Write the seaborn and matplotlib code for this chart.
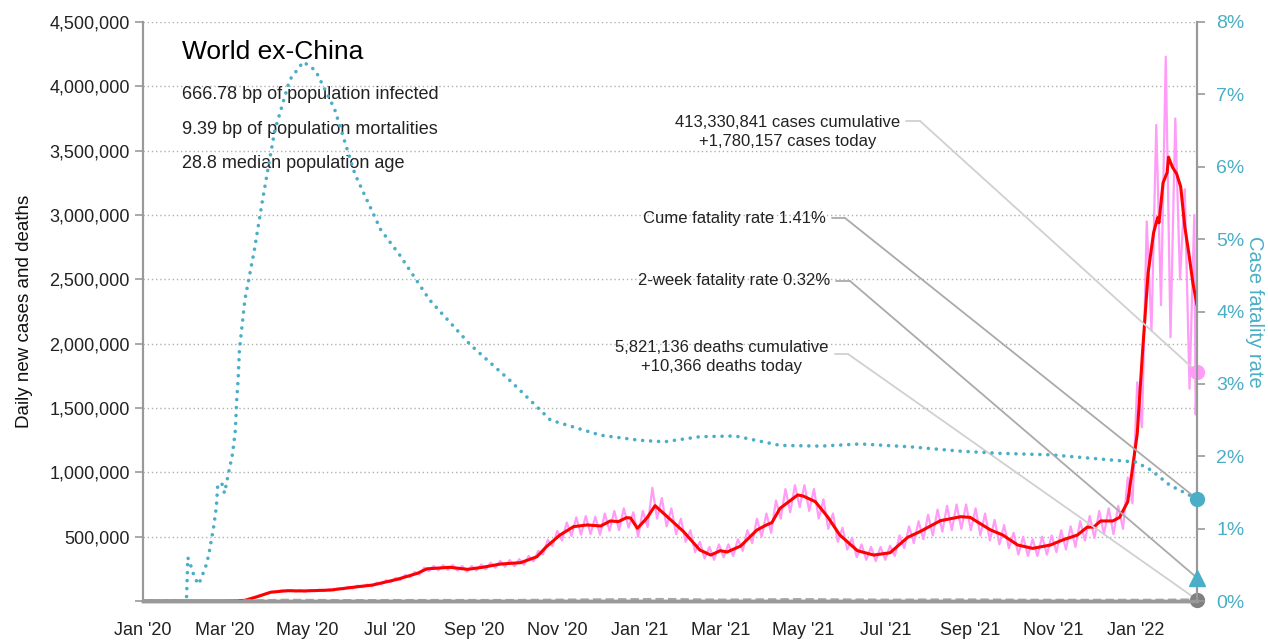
import pandas as pd
import numpy as np
import matplotlib
matplotlib.use('Agg')
import matplotlib.pyplot as plt
import matplotlib.dates as mdates
import matplotlib.ticker as mticker
import seaborn as sns

sns.set_style('white')
plt.rcParams['font.family'] = ['Liberation Sans', 'DejaVu Sans']

# 7-day average of new cases (thousands)
avg_dates = ['2020-01-01', '2020-03-05', '2020-03-16', '2020-03-25', '2020-04-04', '2020-04-16',
             '2020-04-28', '2020-05-18', '2020-06-07', '2020-06-18', '2020-07-06', '2020-07-21',
             '2020-07-28', '2020-08-14', '2020-08-27', '2020-09-07', '2020-09-20', '2020-10-05',
             '2020-10-17', '2020-10-24', '2020-11-03', '2020-11-13', '2020-11-23', '2020-12-03',
             '2020-12-10', '2020-12-16', '2020-12-22', '2020-12-25', '2020-12-30', '2021-01-06',
             '2021-01-12', '2021-01-21', '2021-02-02', '2021-02-14', '2021-02-22', '2021-03-01',
             '2021-03-06', '2021-03-16', '2021-03-28', '2021-04-04', '2021-04-08', '2021-04-14',
             '2021-04-27', '2021-05-01', '2021-05-10', '2021-05-19', '2021-05-28', '2021-06-10',
             '2021-06-22', '2021-07-04', '2021-07-17', '2021-07-26', '2021-08-10', '2021-08-25',
             '2021-09-01', '2021-09-08', '2021-09-16', '2021-09-25', '2021-10-06', '2021-10-17',
             '2021-10-30', '2021-11-08', '2021-11-19', '2021-11-26', '2021-12-01', '2021-12-06',
             '2021-12-15', '2021-12-20', '2021-12-26', '2021-12-29', '2022-01-02', '2022-01-06',
             '2022-01-10', '2022-01-14', '2022-01-17', '2022-01-18', '2022-01-21', '2022-01-24',
             '2022-01-25', '2022-01-28', '2022-01-31', '2022-02-03', '2022-02-06', '2022-02-09',
             '2022-02-12', '2022-02-15']
avg_cases = [0, 0, 5, 33, 68, 80, 78, 85, 111, 124, 168, 215, 250, 262, 246, 262, 287, 298,
             344, 422, 513, 578, 591, 583, 622, 617, 648, 645, 565, 645, 741, 655, 539, 396,
             357, 391, 381, 427, 552, 591, 609, 720, 824, 816, 772, 655, 513, 391, 357, 375,
             495, 539, 624, 655, 650, 604, 552, 513, 435, 409, 435, 474, 513, 573, 575, 622,
             622, 650, 772, 993, 1300, 1950, 2550, 2860, 2980, 2940, 3250, 3330, 3450, 3370,
             3320, 3220, 2910, 2700, 2470, 2300]

# daily new cases (thousands), read every 3.5 days from 2020-03-01
daily_start = '2020-03-01'
daily_cases = [1, 2, 2, 4, 5, 16, 26, 40, 50, 62,
               72, 70, 84, 74, 86, 72, 85, 72, 86, 76,
               88, 78, 92, 82, 100, 90, 110, 98, 120, 106,
               128, 114, 142, 130, 162, 146, 180, 162, 202, 184,
               226, 206, 260, 234, 272, 238, 278, 242, 280, 236,
               272, 228, 272, 236, 284, 246, 298, 258, 312, 266,
               318, 270, 325, 282, 350, 308, 390, 362, 475, 425,
               545, 470, 610, 505, 650, 515, 660, 520, 655, 515,
               680, 545, 700, 550, 720, 570, 690, 500, 700, 575,
               880, 640, 800, 580, 720, 520, 640, 460, 550, 380,
               460, 330, 420, 320, 440, 340, 440, 350, 480, 390,
               550, 450, 640, 500, 680, 530, 780, 640, 870, 690,
               900, 730, 900, 700, 870, 640, 790, 560, 680, 460,
               570, 400, 490, 340, 440, 320, 420, 310, 420, 320,
               430, 350, 510, 410, 580, 450, 620, 480, 670, 510,
               710, 540, 740, 550, 750, 560, 750, 550, 720, 510,
               680, 470, 630, 440, 590, 410, 530, 360, 500, 350,
               480, 350, 500, 360, 510, 380, 550, 400, 580, 420,
               620, 470, 660, 490, 700, 520, 720, 520, 740, 560,
               960, 760, 1700, 1350, 2950, 2100, 3700, 2300, 4230, 2050,
               3750, 2500, 3200, 1650, 3000]
tail_dates = ['2022-02-14', '2022-02-15']
tail_cases = [1450, 1780]

# daily deaths (thousands)
death_dates = ['2020-01-01', '2020-03-01', '2020-03-15', '2020-04-15', '2020-06-01', '2020-08-01',
               '2020-10-01', '2020-12-01', '2021-01-20', '2021-03-01', '2021-04-25', '2021-06-01',
               '2021-07-01', '2021-08-25', '2021-10-15', '2021-11-15', '2021-12-15', '2022-01-15',
               '2022-02-15']
deaths = [0, 0.1, 1, 7, 4.5, 5.5, 5.5, 10.5, 13.5, 8.5, 12.5, 10, 8, 10, 7.5, 6.8, 6.8, 7, 10.4]

# case fatality rate (%)
cfr_dates = ['2020-01-01', '2020-02-02', '2020-02-03', '2020-02-05', '2020-02-08', '2020-02-11',
             '2020-02-14', '2020-02-17', '2020-02-19', '2020-02-22', '2020-02-24', '2020-02-25',
             '2020-02-28', '2020-03-01', '2020-03-04', '2020-03-07', '2020-03-09', '2020-03-10',
             '2020-03-11', '2020-03-12', '2020-03-16', '2020-03-23', '2020-03-29', '2020-04-07',
             '2020-04-18', '2020-04-28', '2020-05-07', '2020-05-21', '2020-06-05', '2020-06-24',
             '2020-07-08', '2020-07-30', '2020-08-29', '2020-09-27', '2020-10-27', '2020-12-03',
             '2021-01-01', '2021-01-19', '2021-02-14', '2021-03-12', '2021-04-14', '2021-05-14',
             '2021-06-12', '2021-07-19', '2021-08-25', '2021-09-23', '2021-10-30', '2021-12-13',
             '2022-01-01', '2022-01-12', '2022-01-26', '2022-02-15']
cfr = [0, 0, 0.6, 0.5, 0.32, 0.23, 0.37, 0.52, 0.7, 1.02, 1.3, 1.6, 1.63, 1.49, 1.77, 2.04,
       2.36, 2.78, 3.05, 3.47, 4.16, 4.85, 5.54, 6.5, 7.2, 7.45, 7.33, 6.8, 5.9, 5.13, 4.78,
       4.16, 3.54, 3.05, 2.5, 2.29, 2.22, 2.2, 2.27, 2.28, 2.15, 2.14, 2.17, 2.13, 2.07, 2.04,
       2.02, 1.95, 1.92, 1.81, 1.6, 1.41]

last_date = '2022-02-15'
cases_today = 1780157
deaths_today = 10366
cfr_cume = 1.41
cfr_2week = 0.32

PINK = '#ff9cf7'
RED = '#ff0000'
TEAL = '#4aaec6'
GRAY = '#999999'

daily_df = pd.DataFrame({
    'date': list(pd.date_range(daily_start, periods=len(daily_cases), freq='84h')) + list(pd.to_datetime(tail_dates)),
    'cases': (np.array(daily_cases + tail_cases) * 1000)})
avg_df = pd.DataFrame({'date': pd.to_datetime(avg_dates), 'cases': np.array(avg_cases) * 1000})
death_df = pd.DataFrame({'date': pd.to_datetime(death_dates), 'deaths': np.array(deaths) * 1000})
cfr_df = pd.DataFrame({'date': pd.to_datetime(cfr_dates), 'cfr': cfr})

fig = plt.figure(figsize=(12.68, 6.4), dpi=100)
ax = fig.add_axes([143 / 1268, 1 - 601 / 640, 1054 / 1268, 579 / 640])
ax2 = ax.twinx()

sns.lineplot(data=daily_df, x='date', y='cases', ax=ax, color=PINK, lw=1.6, estimator=None)
sns.lineplot(data=avg_df, x='date', y='cases', ax=ax, color=RED, lw=2.2, estimator=None)
sns.lineplot(data=death_df, x='date', y='deaths', ax=ax, color='#aaaaaa', lw=2, ls=(0, (3, 1.5)),
             estimator=None)
sns.lineplot(data=cfr_df, x='date', y='cfr', ax=ax2, color=TEAL, lw=2.6, ls=(0, (0.01, 2.2)),
             estimator=None)
for ln in ax2.get_lines():
    ln.set_dash_capstyle('round')

end = pd.Timestamp(last_date)
ax.plot([end], [cases_today], 'o', color=PINK, ms=10, clip_on=False, zorder=10)
ax.plot([end], [deaths_today], 'o', color='#808080', ms=10, clip_on=False, zorder=10)
ax2.plot([end], [cfr_cume], 'o', color=TEAL, ms=10, clip_on=False, zorder=10)
ax2.plot([end], [cfr_2week], '^', color=TEAL, ms=12, clip_on=False, zorder=10)

ax.set_xlim(pd.Timestamp('2020-01-01'), end)
ax.set_ylim(0, 4500000)
ax2.set_ylim(0, 8)

ax.yaxis.set_major_locator(mticker.MultipleLocator(500000))
ax.yaxis.set_major_formatter(mticker.FuncFormatter(lambda v, p: '' if v == 0 else f'{int(v):,}'))
ax2.yaxis.set_major_locator(mticker.MultipleLocator(1))
ax2.yaxis.set_major_formatter(mticker.FuncFormatter(lambda v, p: f'{int(v)}%'))
ax.xaxis.set_major_locator(mdates.MonthLocator(bymonth=[1, 3, 5, 7, 9, 11]))
ax.xaxis.set_major_formatter(mdates.DateFormatter("%b '%y"))

ax.grid(axis='y', color='#b0b0b0', ls=(0, (1, 2)), lw=1)
ax.set_axisbelow(True)

for a in (ax, ax2):
    a.spines['top'].set_visible(False)
    a.spines['left'].set_color(GRAY)
    a.spines['right'].set_color(GRAY)
    a.spines['bottom'].set_color(GRAY)
    a.spines['left'].set_linewidth(1.5)
    a.spines['right'].set_linewidth(1.5)
    a.spines['bottom'].set_linewidth(2.5)
ax.tick_params(axis='both', colors=GRAY, labelcolor='#222222', labelsize=13, length=6, width=1.2)
ax.tick_params(axis='x', pad=9)
ax2.tick_params(axis='y', colors=GRAY, labelcolor=TEAL, labelsize=14, length=6, width=1.2, pad=8)

ax.set_xlabel('')
ax.set_ylabel('Daily new cases and deaths', fontsize=13.5, color='#111111', labelpad=12)
ax2.set_ylabel('Case fatality rate', fontsize=14.5, color=TEAL, rotation=270, labelpad=14)

# title block
ax.text(0.037, 0.948, 'World ex-China', transform=ax.transAxes, fontsize=19, va='center', ha='left',
        color='#000000')
stats = ['666.78 bp of population infected', '9.39 bp of population mortalities',
         '28.8 median population age']
for i, s in enumerate(stats):
    ax.text(0.037, 0.874 - i * 0.059, s, transform=ax.transAxes, fontsize=13, va='center',
            ha='left', color='#222222')


def fx(px):
    return (px - 143) / 1054


def fy(py):
    return (601 - py) / 579


notes = [
    (f'413,330,841 cases cumulative\n+{cases_today:,} cases today', 900, 132, 906, 920, 121,
     ax, cases_today, '#d0d0d0'),
    (f'Cume fatality rate {cfr_cume}%', 826, 218, 832, 845, 218, ax2, cfr_cume, '#aaaaaa'),
    (f'2-week fatality rate {cfr_2week}%', 830, 281, 836, 850, 281, ax2, cfr_2week, '#aaaaaa'),
    (f'5,821,136 deaths cumulative\n+{deaths_today:,} deaths today', 828, 357, 835, 848, 354,
     ax, deaths_today, '#d0d0d0'),
]
for txt, tx, ty, s0, s1, sy, tax, val, col in notes:
    ax2.text(fx(tx), fy(ty), txt, transform=ax.transAxes, fontsize=12, ha='right', va='center',
             multialignment='center', color='#222222', linespacing=1.35)
    ax2.plot([fx(s0), fx(s1)], [fy(sy), fy(sy)], transform=ax.transAxes, color=col, lw=1.3,
             clip_on=False)
    tax.annotate('', xy=(end, val), xycoords='data', xytext=(fx(s1), fy(sy)),
                 textcoords='axes fraction',
                 arrowprops=dict(arrowstyle='-', color=col, lw=1.3, shrinkA=0, shrinkB=0),
                 annotation_clip=False)

fig.savefig('out.png', dpi=100)
